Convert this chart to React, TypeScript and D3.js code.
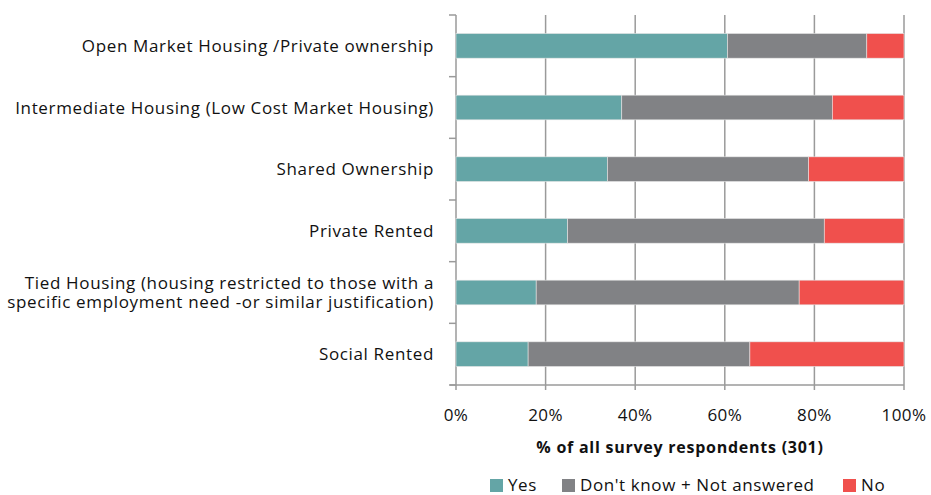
import React from "react";
import * as d3 from "d3";

const categories: string[][] = [
  ["Open Market Housing /Private ownership"],
  ["Intermediate Housing (Low Cost Market Housing)"],
  ["Shared Ownership"],
  ["Private Rented"],
  ["Tied Housing (housing restricted to those with a", "specific employment need -or similar justification)"],
  ["Social Rented"],
];
const yesValues = [60.6, 37.0, 33.8, 24.9, 17.9, 16.1];
const dontKnowValues = [31.1, 47.0, 44.9, 57.3, 58.7, 49.5];
const noValues = [8.3, 16.0, 21.3, 17.8, 23.4, 34.4];
const seriesNames = ["Yes", "Don't know + Not answered", "No"];
const seriesColors = ["#64A5A6", "#818285", "#F0504D"];
const xTicks = [0, 20, 40, 60, 80, 100];
const xTitle = "% of all survey respondents (301)";

const W = 931;
const H = 495;
const FONT = "'Open Sans', sans-serif";

export default function App() {
  const x = d3.scaleLinear().domain([0, 100]).range([456, 904]);
  const idx = categories.map((_, i) => String(i));
  const y = d3.scaleBand().domain(idx).range([15, 385]).paddingInner(0.6).paddingOuter(0.3);
  const yBand = d3.scaleBand().domain(idx).range([15, 385]);

  const rows = categories.map((c, i) => ({ yes: yesValues[i], dk: dontKnowValues[i], no: noValues[i] }));
  const stack = d3.stack<any>().keys(["yes", "dk", "no"])(rows);

  const gridColor = "#9a9a9a";
  return (
    <svg width={W} height={H} style={{ position: "absolute", left: 0, top: 0 }}>
      <rect width={W} height={H} fill="#fff" />
      {xTicks.map((t) => (
        <line key={"g" + t} x1={x(t)} x2={x(t)} y1={15} y2={390} stroke={gridColor} strokeWidth={1.5} />
      ))}
      {d3.range(categories.length + 1).map((i) => {
        const yy = 15 + i * yBand.bandwidth();
        return <line key={"yt" + i} x1={449} x2={456} y1={yy} y2={yy} stroke={gridColor} strokeWidth={1.5} />;
      })}
      <line x1={450} x2={904} y1={385} y2={385} stroke={gridColor} strokeWidth={1.5} />
      {stack.map((s, si) =>
        s.map((d, i) => (
          <rect
            key={si + "-" + i}
            x={x(d[0])}
            width={x(d[1]) - x(d[0])}
            y={y(String(i))}
            height={y.bandwidth()}
            fill={seriesColors[si]}
            stroke="#e6e6e6"
            strokeWidth={0.6}
          />
        ))
      )}
      {categories.map((lines, i) => {
        const cy = (yBand(String(i)) as number) + yBand.bandwidth() / 2;
        const lh = 19;
        return (
          <text key={"c" + i} textAnchor="end" fontFamily={FONT} fontSize={17} letterSpacing={0.65} fill="#111">
            {lines.map((l, j) => (
              <tspan key={j} x={434} y={cy + (j - (lines.length - 1) / 2) * lh} dy="0.36em">
                {l}
              </tspan>
            ))}
          </text>
        );
      })}
      {xTicks.map((t) => (
        <text key={"xl" + t} x={x(t)} y={415} dy="0.36em" textAnchor="middle" fontFamily={FONT} fontSize={17} letterSpacing={0.4} fill="#111">
          {t + "%"}
        </text>
      ))}
      <text x={680} y={447} dy="0.36em" textAnchor="middle" fontFamily={FONT} fontSize={16} letterSpacing={0.75} fontWeight="bold" fill="#111">
        {xTitle}
      </text>
      {(() => {
        const starts = [490, 562, 843];
        return seriesNames.map((n, i) => (
          <g key={"lg" + i}>
            <rect x={starts[i]} y={479} width={13} height={13} fill={seriesColors[i]} />
            <text x={starts[i] + 18} y={485} dy="0.36em" fontFamily={FONT} fontSize={17} letterSpacing={0.6} fill="#111">
              {n}
            </text>
          </g>
        ));
      })()}
    </svg>
  );
}
